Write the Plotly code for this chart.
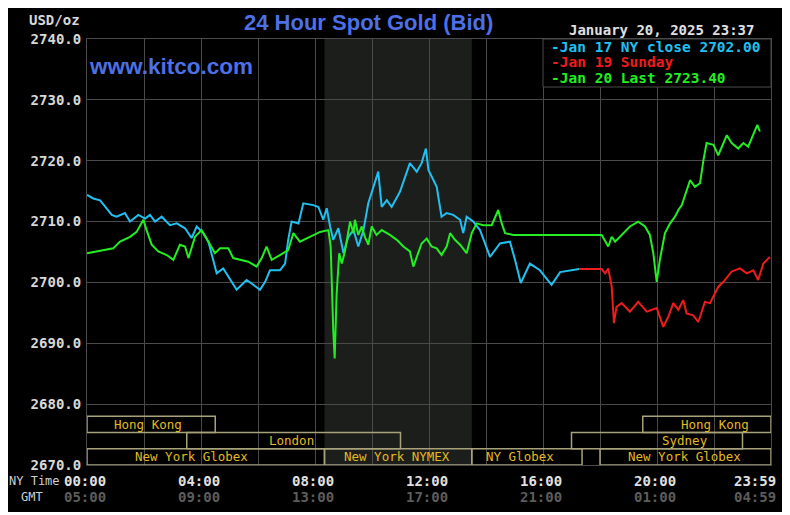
import plotly.graph_objects as go

# ---------------- data ----------------
hours_jan17 = [0, 0.22, 0.46, 0.87, 1.04, 1.33, 1.51, 1.8, 2.04, 2.21,
               2.39, 2.62, 2.91, 3.15, 3.44, 3.67, 3.85, 4.08, 4.26, 4.55,
               4.78, 5.02, 5.25, 5.6, 5.84, 6.07, 6.25, 6.42, 6.77, 6.95,
               7.06, 7.18, 7.42, 7.59, 7.94, 8.12, 8.29, 8.41, 8.53, 8.64,
               8.82, 9.0, 9.17, 9.35, 9.52, 9.7, 9.87, 10.05, 10.22, 10.34,
               10.52, 10.69, 10.98, 11.33, 11.57, 11.74, 11.89, 11.98, 12.27, 12.44,
               12.62, 12.85, 13.09, 13.2, 13.32, 13.55, 13.79, 14.14, 14.49, 14.84,
               15.02, 15.22, 15.54, 15.89, 16.3, 16.6, 16.95, 17.27]
price_jan17 = [2714.4, 2713.8, 2713.5, 2711.1, 2710.8, 2711.4, 2710.0, 2711.1, 2710.5, 2711.1,
               2710.0, 2710.8, 2709.4, 2709.7, 2708.9, 2707.3, 2709.2, 2708.1, 2706.7, 2701.5,
               2702.3, 2700.4, 2698.8, 2700.4, 2699.6, 2698.8, 2700.1, 2702.0, 2702.0, 2703.1,
               2707.0, 2710.0, 2709.7, 2713.0, 2712.7, 2712.4, 2710.3, 2712.2, 2709.2, 2707.0,
               2708.9, 2704.8, 2707.5, 2708.6, 2705.9, 2708.6, 2713.0, 2715.7, 2718.2, 2712.4,
               2713.5, 2712.4, 2714.9, 2719.6, 2718.2, 2719.6, 2722.0, 2718.5, 2715.7, 2710.8,
               2711.4, 2711.1, 2710.3, 2708.1, 2710.8, 2710.0, 2708.6, 2704.2, 2706.4, 2706.7,
               2703.7, 2699.9, 2703.1, 2702.0, 2699.6, 2701.7, 2702.0, 2702.2]

hours_jan19 = [17.27, 18.06, 18.18, 18.29, 18.41, 18.49, 18.58, 18.76, 19.05, 19.34,
               19.64, 19.99, 20.22, 20.4, 20.57, 20.75, 20.92, 21.04, 21.27, 21.45,
               21.68, 21.86, 22.15, 22.33, 22.62, 22.91, 23.15, 23.38, 23.55, 23.73,
               23.96]
price_jan19 = [2702.2, 2702.2, 2701.5, 2702.3, 2699.3, 2693.3, 2696.0, 2696.6, 2695.2, 2696.8,
               2695.2, 2695.8, 2692.7, 2694.4, 2696.6, 2695.5, 2697.1, 2694.9, 2694.6, 2693.5,
               2696.8, 2696.6, 2699.3, 2700.1, 2701.8, 2702.3, 2701.5, 2702.0, 2700.4, 2703.1,
               2704.2]

hours_jan20 = [0, 0.34, 0.69, 0.92, 1.16, 1.51, 1.74, 1.98, 2.09, 2.27,
               2.5, 2.8, 3.03, 3.26, 3.44, 3.56, 3.79, 4.02, 4.26, 4.49,
               4.67, 4.96, 5.13, 5.37, 5.66, 5.95, 6.13, 6.3, 6.48, 6.77,
               7.06, 7.24, 7.47, 7.82, 8.18, 8.47, 8.55, 8.64, 8.69, 8.76,
               8.85, 8.94, 9.05, 9.23, 9.35, 9.4, 9.52, 9.64, 9.75, 9.87,
               9.99, 10.16, 10.34, 10.63, 10.87, 11.1, 11.33, 11.45, 11.57, 11.74,
               11.92, 12.09, 12.27, 12.44, 12.62, 12.74, 12.91, 13.09, 13.32, 13.5,
               13.67, 13.9, 14.2, 14.43, 14.55, 14.67, 14.96, 18.06, 18.29, 18.41,
               18.53, 18.82, 19.05, 19.34, 19.58, 19.75, 19.87, 19.99, 20.1, 20.28,
               20.46, 20.63, 20.75, 20.87, 20.98, 21.16, 21.33, 21.51, 21.63, 21.74,
               21.98, 22.15, 22.45, 22.62, 22.85, 23.03, 23.2, 23.38, 23.52, 23.61]
price_jan20 = [2704.8, 2705.1, 2705.3, 2705.6, 2706.7, 2707.5, 2708.3, 2710.3, 2708.6, 2706.2,
               2705.1, 2704.5, 2703.7, 2706.2, 2705.9, 2704.0, 2707.5, 2708.6, 2706.7, 2704.8,
               2705.6, 2705.6, 2704.0, 2703.7, 2703.4, 2702.6, 2704.0, 2705.9, 2703.7, 2704.5,
               2705.3, 2708.1, 2706.7, 2707.5, 2708.3, 2708.6, 2705.9, 2692.2, 2687.5, 2698.2,
               2704.8, 2703.1, 2705.1, 2710.0, 2708.1, 2710.3, 2707.8, 2709.2, 2707.5, 2706.2,
               2709.2, 2707.8, 2708.6, 2707.8, 2707.0, 2705.9, 2705.1, 2702.6, 2704.2, 2706.4,
               2707.2, 2705.9, 2705.6, 2704.5, 2705.9, 2708.1, 2707.0, 2706.2, 2704.8, 2708.1,
               2709.7, 2709.4, 2709.4, 2711.9, 2709.7, 2708.1, 2707.8, 2707.8, 2705.9, 2707.5,
               2706.7, 2708.1, 2709.2, 2710.0, 2709.2, 2707.8, 2704.8, 2700.1, 2703.7, 2708.1,
               2709.7, 2710.8, 2711.9, 2712.7, 2714.4, 2716.8, 2715.7, 2716.3, 2720.1, 2722.9,
               2722.6, 2720.9, 2724.2, 2722.9, 2722.0, 2722.9, 2722.3, 2724.5, 2725.9, 2724.8]

y_ticks = [2670, 2680, 2690, 2700, 2710, 2720, 2730, 2740]
ny_time_labels = ["00:00", "04:00", "08:00", "12:00", "16:00", "20:00", "23:59"]
gmt_labels = ["05:00", "09:00", "13:00", "17:00", "21:00", "01:00", "04:59"]
label_hours = [0, 4, 8, 12, 16, 20, 23.983]

session_names = ["Hong Kong", "Hong Kong", "London", "Sydney",
                 "New York Globex", "New York NYMEX", "NY Globex", "New York Globex"]
session_start = [0, 19.5, 3.5, 17.0, 0, 8.333, 13.5, 18.0]
session_end = [4.5, 24, 11.0, 23.0, 8.333, 13.5, 17.37, 24]
session_row = [0, 0, 1, 1, 2, 2, 2, 2]
session_label_hour = [2.14, 22.04, 7.16, 20.98, 3.65, 10.88, 15.19, 20.95]

comex_open, comex_close = 8.333, 13.5

legend_texts = ["-Jan 17 NY close 2702.00", "-Jan 19 Sunday", "-Jan 20 Last 2723.40"]
date_text = "January 20, 2025 23:37"

# ---------------- style ----------------
# the page body has an 8px margin, so the figure is sized to fit the window
OFF = 8
W, H = 790 - OFF, 515 - OFF
PLOT_L, PLOT_R, PLOT_T, PLOT_B = 87, 771, 39, 465   # target page pixels
L, T = PLOT_L - OFF, PLOT_T - OFF
PW, PH = PLOT_R - PLOT_L, PLOT_B - PLOT_T
R, B = W - L - PW, H - T - PH
CYAN, RED, GREEN = "#22c0f0", "#ee1c1c", "#22ee22"
GRID = "#4a4a4a"
MONO = "DejaVu Sans Mono"
SESS_LINE = "#a8a27a"
SESS_TEXT = "#e2ba22"
BLUE = "#4d70e6"


def px(x):
    return (x - PLOT_L) / PW


def py(y):
    return (PLOT_B - y) / PH


fig = go.Figure()
for hrs, vals, col in [(hours_jan17, price_jan17, CYAN),
                       (hours_jan19, price_jan19, RED),
                       (hours_jan20, price_jan20, GREEN)]:
    fig.add_trace(go.Scatter(x=hrs, y=vals, mode="lines",
                             line=dict(color=col, width=2), hoverinfo="skip",
                             showlegend=False))

shapes = []
shapes.append(dict(type="rect", xref="paper", yref="paper", layer="below",
                   x0=px(5), x1=px(785), y0=py(512), y1=py(5),
                   fillcolor="black", line=dict(width=0)))
shapes.append(dict(type="rect", xref="x", yref="y", layer="below",
                   x0=comex_open, x1=comex_close, y0=2670, y1=2740,
                   fillcolor="#1c1e1c", line=dict(width=0)))
row_h = 8 / 3
for s, e, r in zip(session_start, session_end, session_row):
    y1 = 2670 + (3 - r) * row_h
    shapes.append(dict(type="rect", xref="x", yref="y", layer="above",
                       x0=s, x1=e, y0=y1 - row_h, y1=y1,
                       fillcolor="rgba(0,0,0,0)", line=dict(color=SESS_LINE, width=1.5)))
shapes.append(dict(type="rect", xref="paper", yref="paper", layer="above",
                   x0=px(543), x1=1, y0=py(87), y1=1,
                   fillcolor="black", line=dict(color=GRID, width=1)))

ann = []


def text(t, x, y, size, color, xanchor="center", weight="normal", family=MONO, xref="paper"):
    ann.append(dict(text=t, xref=xref, yref="paper", x=x, y=y, showarrow=False,
                    xanchor=xanchor, yanchor="middle",
                    font=dict(family=family, size=size, color=color, weight=weight)))


text("24 Hour Spot Gold (Bid)", px(368), py(23), 22, BLUE, weight="bold", family="Liberation Sans")
text("www.kitco.com", px(171), py(66), 22.5, BLUE, weight="bold", family="Liberation Sans")
text("USD/oz", px(82), py(20), 14, "#d8d8d8", xanchor="right", weight="bold")
text(date_text, px(756), py(30), 14, "#e0e0e0", xanchor="right", weight="bold")
for i, (t, c) in enumerate(zip(legend_texts, [CYAN, RED, GREEN])):
    text(t, px(549), py(47 + 15.5 * i), 14.5, c, xanchor="left", weight="bold")
for name, lx, r in zip(session_names, session_label_hour, session_row):
    yc = 2670 + (3 - r) * row_h - row_h / 2
    ann.append(dict(text=name, xref="x", yref="y", x=lx, y=yc, showarrow=False,
                    xanchor="center", yanchor="middle",
                    font=dict(family=MONO, size=12.5, color=SESS_TEXT)))
for i, (h, t, g) in enumerate(zip(label_hours, ny_time_labels, gmt_labels)):
    last = i == len(label_hours) - 1
    for lab, yy, col in [(t, 481, "#e0e0e0"), (g, 497, "#5c5c5c")]:
        ann.append(dict(text=lab, xref="x", yref="paper", x=h, y=py(yy), showarrow=False,
                        xanchor="right" if last else "center", yanchor="middle",
                        xshift=7 if last else -2,
                        font=dict(family=MONO, size=14, color=col, weight="bold")))
text("NY Time", px(34), py(481), 12, "#d0d0d0")
text("GMT", px(32), py(497), 12, "#d0d0d0")

fig.update_layout(
    width=W, height=H,
    margin=dict(l=L, r=R, t=T, b=B, pad=0),
    paper_bgcolor="white", plot_bgcolor="black",
    shapes=shapes, annotations=ann, showlegend=False,
    xaxis=dict(range=[0, 24], dtick=2, tick0=0, showgrid=True, gridcolor=GRID, gridwidth=1,
               showticklabels=False, zeroline=False, showline=True, linecolor=GRID,
               mirror=True, fixedrange=True),
    yaxis=dict(range=[2670, 2740], tickvals=y_ticks, tickformat=".1f",
               showgrid=True, gridcolor=GRID, gridwidth=1, zeroline=False,
               showline=True, linecolor=GRID, mirror=True, ticks="",
               ticklabelstandoff=2,
               tickfont=dict(family=MONO, size=14, color="#d8d8d8", weight="bold"),
               fixedrange=True),
)

fig.write_html("out.html")
